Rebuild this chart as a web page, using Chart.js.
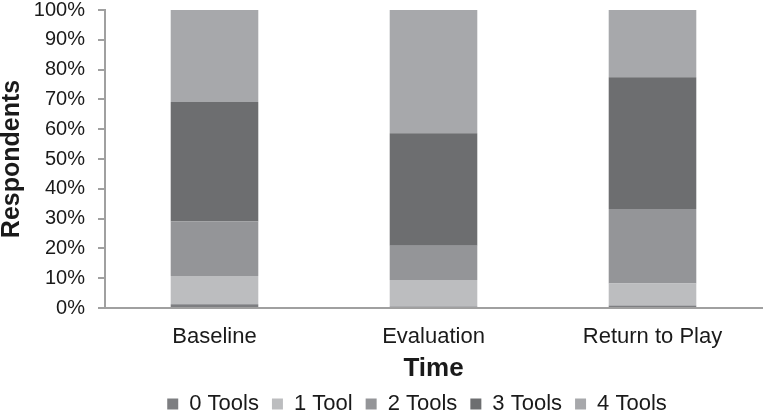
<!DOCTYPE html>
<html>
<head>
<meta charset="utf-8">
<script src="https://cdn.jsdelivr.net/npm/chart.js@4"></script>
<style>
  html, body { margin: 0; padding: 0; background: #fff; }
  #wrap { width: 763px; height: 415px; }
</style>
</head>
<body>
<div id="wrap"><canvas id="Chart"></canvas></div>
<script>
const categories = ['Baseline', 'Evaluation', 'Return to Play'];
const seriesNames = ['0 Tools', '1 Tool', '2 Tools', '3 Tools', '4 Tools'];
// share of respondents per segment (%)
const tools0 = [1.3, 0.5, 0.8];
const tools1 = [9.4, 8.9, 7.4];
const tools2 = [18.3, 11.5, 25.0];
const tools3 = [40.1, 37.7, 44.2];
const tools4 = [30.9, 41.4, 22.6];
const colors = ['#7d7e81', '#bcbdbf', '#949598', '#6d6e70', '#a7a8ab'];

const seriesData = [tools0, tools1, tools2, tools3, tools4];
const font = "'Liberation Sans', Arial, sans-serif";
Chart.defaults.font.family = font;
Chart.defaults.color = '#1a1a1a';

// legend sits a bit right of centre in the original
const shiftLegend = {
  id: 'shiftLegend',
  afterLayout(chart) {
    chart.legend.left += 36;
    chart.legend.right += 36;
  }
};

const ctx = document.getElementById('Chart');
new Chart(ctx, {
  type: 'bar',
  data: {
    labels: categories,
    datasets: seriesNames.map((name, i) => ({
      label: name,
      data: seriesData[i],
      backgroundColor: colors[i],
      borderWidth: 0,
      barPercentage: 0.4,
      categoryPercentage: 1
    }))
  },
  options: {
    responsive: true,
    maintainAspectRatio: false,
    animation: false,
    layout: { padding: { top: 0, right: 1, left: 0, bottom: -10 } },
    plugins: {
      tooltip: { enabled: false },
      legend: {
        position: 'bottom',
        labels: {
          boxWidth: 11,
          boxHeight: 11,
          padding: 13,
          font: { size: 22 },
          color: '#1a1a1a'
        }
      }
    },
    scales: {
      x: {
        stacked: true,
        grid: { display: false, drawTicks: false },
        border: { color: '#a0a0a0', width: 2 },
        ticks: { font: { size: 22, lineHeight: 1 }, padding: 18, color: '#1a1a1a' },
        title: { display: true, text: 'Time', font: { size: 26, weight: 'bold', lineHeight: 1 }, padding: { top: 9, bottom: -2 }, color: '#1a1a1a' },
        afterFit: s => { s.height = 72; }
      },
      y: {
        stacked: true,
        min: 0,
        max: 100,
        grid: { display: true, drawOnChartArea: false, drawTicks: true, tickLength: 7, color: '#a0a0a0', lineWidth: 2 },
        border: { color: '#a0a0a0', width: 2 },
        ticks: { stepSize: 10, font: { size: 20, lineHeight: 1 }, padding: 13, color: '#1a1a1a', callback: v => v + '%' },
        title: { display: true, text: 'Respondents', font: { size: 25, weight: 'bold', lineHeight: 1 }, padding: { top: 0, bottom: 8 }, color: '#1a1a1a' },
        afterFit: s => { s.width = 105; s.paddingTop = 10; s.paddingBottom = 10; }
      }
    }
  },
  plugins: [shiftLegend]
});
</script>
</body>
</html>
